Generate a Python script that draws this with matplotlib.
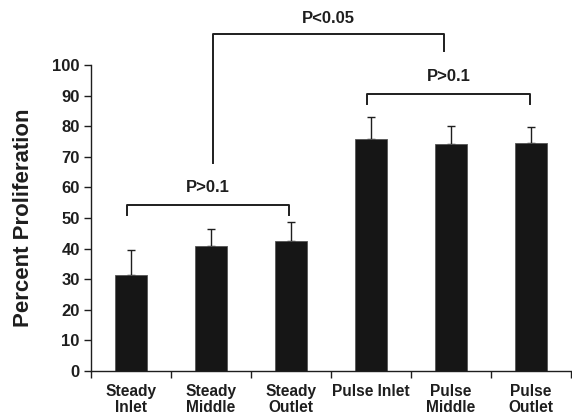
import numpy as np
import matplotlib
matplotlib.use("Agg")
import matplotlib.pyplot as plt

plt.rcParams['font.family'] = ['Liberation Sans', 'DejaVu Sans']
plt.rcParams['font.weight'] = 'bold'

categories = ['Steady\nInlet', 'Steady\nMiddle', 'Steady\nOutlet',
              'Pulse Inlet', 'Pulse\nMiddle', 'Pulse\nOutlet']
means = [31.5, 40.9, 42.6, 76.0, 74.1, 74.7]
errors = [8.1, 5.6, 6.1, 7.0, 6.1, 5.1]
yticks = [0, 10, 20, 30, 40, 50, 60, 70, 80, 90, 100]

# significance brackets: (x left, x right, top, left leg bottom, right leg bottom, label, label y)
brackets = [
    (-0.05, 1.98, 54.2, 51.0, 51.0, 'P>0.1', 60.0),
    (2.95, 4.99, 90.6, 87.2, 87.2, 'P>0.1', 96.3),
    (1.02, 3.91, 110.1, 68.1, 104.6, 'P<0.05', 115.3),
]

ink = '#1e1e1e'

fig = plt.figure(figsize=(5.72, 4.15), dpi=100)
ax = fig.add_axes([0.159, 0.106, 0.839, 0.737])

x = np.arange(len(categories))
ax.bar(x, means, width=0.4, color='#161616', edgecolor='#555555', linewidth=0.6, zorder=2)
ax.errorbar(x, means, yerr=[np.zeros(len(errors)), errors], fmt='none',
            ecolor=ink, elinewidth=1.0, capsize=2.6, capthick=1.0, zorder=1)

ax.set_xlim(-0.5, len(categories) - 0.5)
ax.set_ylim(0, 100)
ax.set_yticks(yticks)
ax.tick_params(axis='y', labelsize=12, colors=ink, length=5, width=1, pad=3)
ax.set_xticks(np.arange(-0.5, len(categories), 1.0))
ax.set_xticklabels([])
ax.tick_params(axis='x', length=5, width=1, colors=ink)
for i, lab in enumerate(categories):
    ax.text(i, -4.4, lab, ha='center', va='top', fontsize=11.2, color=ink,
            fontweight='bold', linespacing=1.05)

for s in ['top', 'right']:
    ax.spines[s].set_visible(False)
for s in ['left', 'bottom']:
    ax.spines[s].set_color(ink)
    ax.spines[s].set_linewidth(1)

fig.text(24 / 572, 0.476, 'Percent Proliferation', rotation=90, ha='center',
         va='center', fontsize=16, fontweight='bold', color=ink)

for x0, x1, top, lb, rb, label, ly in brackets:
    ax.plot([x0, x0, x1, x1], [lb, top, top, rb], color=ink, lw=1.4,
            clip_on=False, solid_joinstyle='round')
    ax.text((x0 + x1) / 2, ly, label, ha='center', va='center',
            fontsize=12, fontweight='bold', color=ink, clip_on=False)

fig.savefig('out.png', dpi=100)
